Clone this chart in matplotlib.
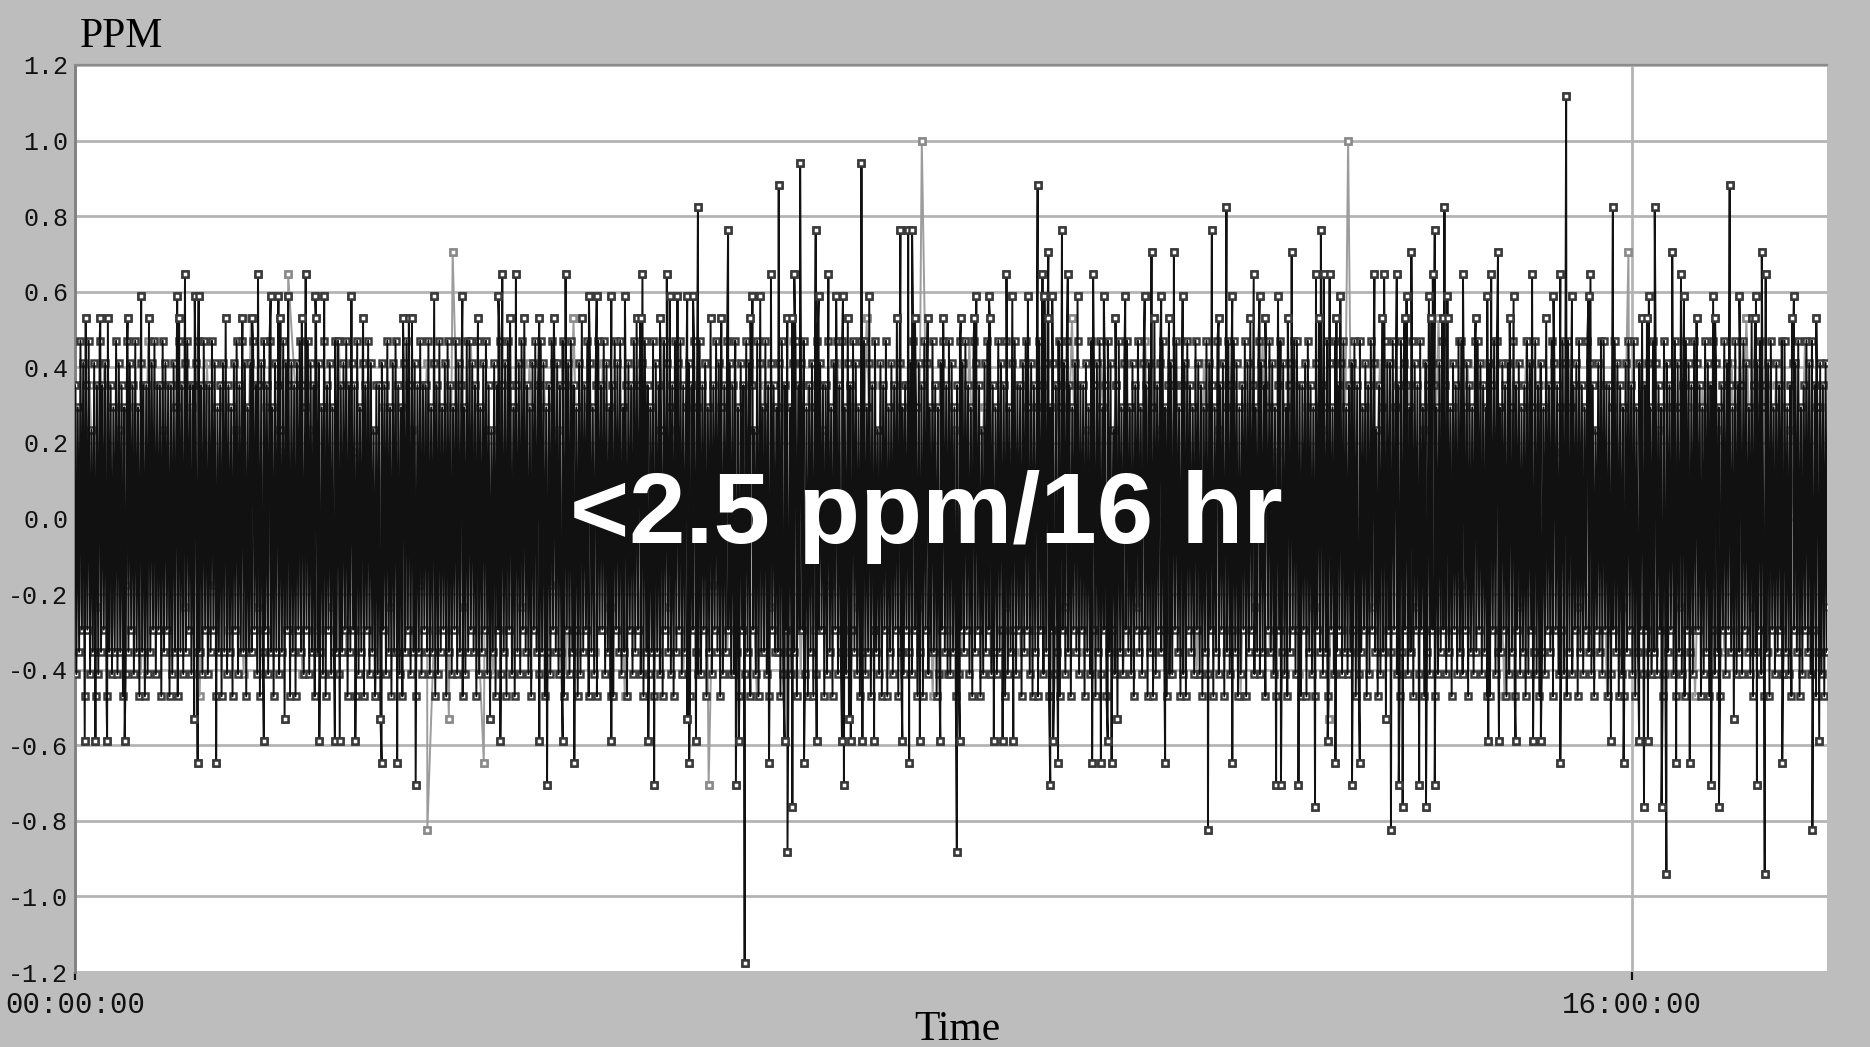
#! /usr/bin/env python3

"""Sixteen hour drift record of the PPM reading."""

import matplotlib
matplotlib.use('Agg')
import matplotlib.pyplot as plt
import numpy as np

STEP = 1 / 17  # ppm per count of the reading
SPAN_H = 18.0  # hours shown on the time axis

# Dark trace, counts at evenly spaced sample times across the span
black_counts = """
6 -7 5 -6 8 -5 7 -8 6 -5 8 -7 4 -6 7 -8 6 -7 8 -6 6 -5 7 -8 9 -6 6 -7 5 -6 8 -7
7 -6 6 -8 5 -7 8 -6 7 -5 6 -7 8 -6 5 -8 7 -6 6 -8 6 -7 9 -6 7 -5 8 -7 6 -5 6 -8
8 -6 7 -5 6 -8 6 -7 7 -6 5 -8 8 -6 6 -7 7 -6 8 -5 6 -7 6 -9 7 -6 8 -6 6 -7 8 -5
6 -7 6 -6 8 -5 7 -8 5 -6 6 -8 7 -6 9 -7 6 -6 5 -8 7 -5 8 -7 6 -6 8 -6 7 -8 5 -6
7 -6 8 -5 6 -7 6 -8 7 -6 8 -5 6 -7 8 -6 5 -8 7 -6 6 -7 4 -6 8 -9 7 -5 6 -8 7 -6
6 -8 7 -5 8 -6 6 -7 5 -5 8 -7 7 -6 6 -8 9 -6 7 -6 5 -7 8 -8 6 -5 7 -7 5 -6 8 -6
8 -7 6 -6 7 -5 8 -8 6 -6 7 -5 6 -8 8 -7 5 -6 7 -8 6 -5 8 -7 7 -6 4 -8 6 -7 6 -9
7 -5 6 -7 8 -6 5 -8 7 -6 8 -6 6 -7 5 -8 7 -6 8 -5 6 -7 9 -6 7 -8 6 -6 8 -7 6 -5
6 -6 8 -7 5 -6 7 -8 6 -7 8 -6 5 -5 7 -8 8 -6 6 -7 5 -5 8 -7 7 -6 6 -8 5 -7 8 -6
8 -5 7 -6 6 -8 8 -7 5 -6 7 -5 8 -7 6 -9 4 -6 7 -8 6 -5 8 -7 6 -6 7 -8 8 -5 6 -7
5 -8 6 -6 7 -7 8 -5 9 -6 6 -7 5 -8 7 -5 8 -6 6 -7 8 -6 7 -8 5 -6 6 -7 8 -5 7 -6
7 -7 6 -6 8 -8 6 -5 7 -7 8 -6 6 -5 5 -8 7 -7 9 -6 6 -5 8 -8 7 -6 5 -7 6 -8 8 -5
6 -5 8 -7 7 -6 5 -8 6 -8 8 -5 7 -6 8 -7 5 -6 6 -8 7 -5 6 -7 8 -6 9 -5 6 -7 7 -8
8 -6 6 -7 5 -6 8 -8 7 -6 6 -7 4 -8 8 -5 7 -6 5 -7 6 -8 8 -6 7 -5 8 -7 6 -6 5 -9
7 -8 6 -5 8 -6 5 -7 8 -7 6 -5 7 -8 5 -6 9 -7 6 -5 8 -6 7 -8 5 -7 6 -6 8 -5 7 -7
6 -7 8 -6 5 -8 7 -5 6 -7 8 -6 7 -8 6 -5 4 -7 8 -8 7 -6 5 -6 8 -7 6 -8 7 -5 6 -6
5 -6 7 -8 8 -7 6 -5 9 -6 5 -7 7 -6 8 -8 6 -5 7 -5 8 -7 5 -8 6 -6 7 -8 5 -7 8 -5
7 -5 6 -8 6 -7 8 -6 5 -8 7 -5 8 -7 6 -6 8 -5 5 -7 7 -9 6 -5 8 -6 7 -7 5 -8 8 -6
8 -7 5 -6 7 -8 6 -5 8 -6 4 -7 7 -8 6 -5 8 -8 5 -6 7 -7 6 -5 9 -8 7 -6 5 -7 6 -5
6 -6 7 -7 8 -5 5 -8 7 -6 6 -8 8 -5 7 -7 5 -6 8 -6 6 -8 5 -7 7 -5 8 -6 6 -7 8 -7
7 -6 5 -8 6 -7 8 -5 7 -6 8 -5 6 -7 5 -8 8 -6 7 -5 6 -8 4 -7 7 -6 8 -5 9 -7 6 -6
5 -7 8 -6 7 -5 6 -8 8 -7 5 -6 7 -5 8 -7 6 -5 6 -8 7 -6 8 -5 5 -7 7 -8 6 -6 5 -8
8 -5 6 -7 7 -6 9 -8 5 -5 7 -7 6 -6 8 -8 5 -5 7 -7 8 -6 6 -8 5 -5 7 -6 8 -7 6 -5
6 -8 7 -6 5 -7 8 -5 6 -8 7 -6 8 -7 5 -5 6 -8 8 -6 7 -5 4 -7 6 -9 8 -6 5 -7 7 -5
8 -6 5 -7 7 -8 6 -5 8 -6 5 -7 7 -5 6 -8 7 -6 5 -8 9 -7 6 -5 7 -6 8 -5 5 -8 6 -7
7 -7 6 -5 8 -6 5 -8 6 -7 7 -8 8 -5 6 -6 5 -7 8 -5 7 -7 6 -8 5 -6 8 -7 7 -5 6 -8
5 -6 8 -7 6 -5 7 -8 5 -6 8 -7 6 -5 8 -6 7 -8 5 -7 6 -5 8 -8 7 -6 9 -5 6 -7 5 -6
8 -7 7 -6 6 -8 5 -5 8 -6 7 -7 5 -8 6 -5 8 -6 7 -7 5 -8 6 -6 7 -5 8 -7 8 -5 6 -8
6 -5 7 -8 8 -6 6 -7 5 -8 7 -5 9 -6 6 -7 5 -6 8 -8 7 -5 5 -7 8 -6 6 -5 7 -7 8 -6
5 -7 6 -6 7 -5 8 -8 6 -7 8 -6 5 -5 7 -8 6 -7 8 -5 7 -6 4 -8 6 -7 5 -6 8 -9 7 -5
7 -6 8 -5 5 -7 6 -8 8 -6 7 -5 6 -7 5 -6 8 -8 7 -5 6 -7 8 -5 5 -8 7 -6 6 -7 9 -5
6 -8 5 -7 7 -6 8 -5 6 -7 9 -6 5 -8 7 -5 6 -7 8 -6 8 -7 5 -5 7 -8 6 -6 5 -7 8 -6
8 -5 7 -7 6 -6 5 -8 7 -8 6 -5 8 -7 8 -6 5 -6 7 -5 6 -8 7 -7 5 -6 8 -8 6 -5 7 -7
5 -6 6 -8 8 -7 7 -5 5 -6 8 -7 6 -8 7 -6 5 -7 9 -5 6 -6 8 -8 7 -5 6 -7 5 -5 8 -7
7 -8 8 -6 5 -7 6 -5 7 -8 8 -6 6 -7 5 -5 8 -6 7 -7 6 -8 4 -5 7 -6 8 -7 8 -5 6 -8
6 -7 5 -5 8 -6 7 -8 6 -7 5 -8 7 -6 8 -5 6 -7 8 -8 5 -6 7 -5 9 -7 6 -5 7 -6 5 -7
8 -6 7 -7 6 -5 5 -8 8 -7 7 -6 6 -5 5 -7 8 -8 7 -6 5 -7 6 -8 8 -5 7 -6 6 -7 8 -5
7 -5 6 -8 5 -7 8 -6 7 -8 6 -5 8 -7 7 -6 5 -8 6 -5 8 -7 7 -5 6 -6 5 -9 8 -7 6 -6
6 -7 8 -5 7 -6 5 -7 9 -8 6 -6 7 -5 8 -7 5 -8 6 -6 7 -8 8 -5 5 -7 7 -6 6 -5 8 -7
8 -6 5 -7 6 -8 7 -5 7 -6 8 -8 5 -7 6 -5 8 -6 7 -7 8 -5 6 -8 5 -6 7 -7 6 -8 7 -6
"""

# Light trace, counts at evenly spaced sample times across the span
gray_counts = """
3 -5 6 -4 7 -6 4 -3 5 -7 8 -5 4 -6 6 -4 5 -8 7 -3 6 -5 4 -7 9 -4 5 -6 3 -5
6 -7 4 -5 5 -4 8 -6 3 -5 7 -8 5 -4 6 -6 4 -3 7 -5 5 -9 6 -4 8 -5 4 -7 6 -5
5 -4 7 -6 6 -3 4 -7 9 -5 5 -6 7 -4 3 -8 6 -5 5 -6 8 -4 4 -7 6 -5 7 -3 5 -6
7 -5 4 -8 6 -4 5 -6 8 -7 6 -5 4 -3 7 -6 5 -4 9 -5 6 -7 3 -6 5 -4 7 -8 6 -5
4 -6 8 -5 5 -7 6 -4 3 -6 7 -5 5 -8 6 -4 9 -6 4 -5 7 -3 6 -7 5 -4 8 -6 4 -5
6 -3 5 -7 7 -5 4 -6 6 -8 5 -4 8 -6 3 -5 6 -7 5 -4 4 -9 7 -5 6 -6 5 -4 7 -5
5 -7 6 -4 4 -5 9 -6 5 -3 7 -6 6 -5 4 -8 5 -4 8 -6 6 -5 3 -7 7 -4 5 -6 6 -8
8 -4 5 -6 6 -7 4 -5 7 -4 5 -8 6 -3 4 -6 7 -5 9 -4 5 -6 6 -7 4 -5 8 -6 5 -4
"""

# Excursions of the dark trace above the band: (hour, counts)
black_up = [
    (15.32, 19),
    (7.45, 16), (8.08, 16),
    (7.23, 15), (9.89, 15), (17.00, 15),
    (6.40, 14), (11.83, 14), (14.07, 14), (15.80, 14), (16.23, 14),
    (6.71, 13), (7.61, 13), (8.48, 13), (8.56, 13), (8.60, 13),
    (10.14, 13), (11.68, 13), (12.80, 13), (13.97, 13),
    (10.00, 12), (11.06, 12), (11.29, 12), (12.50, 12), (13.73, 12),
    (14.62, 12), (16.41, 12), (17.33, 12),
    (1.13, 11), (1.88, 11), (2.37, 11), (4.39, 11), (4.53, 11), (5.04, 11),
    (5.83, 11), (6.08, 11), (7.15, 11), (7.39, 11), (7.74, 11), (9.57, 11),
    (9.94, 11), (10.20, 11), (10.46, 11), (12.11, 11), (12.75, 11),
    (12.83, 11), (12.89, 11), (13.35, 11), (13.45, 11), (13.58, 11),
    (13.95, 11), (14.26, 11), (14.55, 11), (14.97, 11), (15.26, 11),
    (15.57, 11), (16.50, 11), (17.37, 11),
    (0.68, 10), (1.05, 10), (1.23, 10), (1.27, 10), (2.01, 10), (2.09, 10),
    (2.19, 10), (2.47, 10), (2.56, 10), (2.84, 10), (3.69, 10), (3.98, 10),
    (4.35, 10), (5.28, 10), (5.36, 10), (5.51, 10), (5.65, 10), (6.11, 10),
    (6.19, 10), (6.29, 10), (6.35, 10), (6.96, 10), (7.04, 10), (7.64, 10),
    (7.82, 10), (7.89, 10), (8.16, 10), (9.26, 10), (9.39, 10), (9.63, 10),
    (9.79, 10), (9.96, 10), (10.04, 10), (10.30, 10), (10.57, 10),
    (10.79, 10), (10.99, 10), (11.16, 10), (11.38, 10), (11.89, 10),
    (12.17, 10), (12.36, 10), (13.00, 10), (13.68, 10), (13.91, 10),
    (14.10, 10), (14.51, 10), (14.78, 10), (15.19, 10), (15.38, 10),
    (15.55, 10), (16.17, 10), (16.53, 10), (16.83, 10), (17.10, 10),
    (17.27, 10), (17.66, 10),
    (0.11, 9), (0.26, 9), (0.54, 9), (1.07, 9), (1.72, 9), (1.82, 9),
    (2.11, 9), (2.33, 9), (2.96, 9), (3.37, 9), (3.43, 9), (4.14, 9),
    (4.47, 9), (4.77, 9), (4.92, 9), (5.81, 9), (6.01, 9), (6.64, 9),
    (6.94, 9), (7.37, 9), (7.94, 9), (8.63, 9), (8.76, 9), (8.92, 9),
    (9.10, 9), (9.24, 9), (10.69, 9), (11.24, 9), (11.75, 9), (12.23, 9),
    (12.46, 9), (12.96, 9), (13.43, 9), (13.66, 9), (14.05, 9), (14.39, 9),
    (14.74, 9), (16.15, 9), (16.66, 9), (16.85, 9), (17.26, 9), (17.64, 9),
    (17.89, 9),
]

# Excursions of the dark trace below the band: (hour, counts)
black_down = [
    (0.10, -10), (0.21, -10), (0.33, -10), (0.51, -10), (1.94, -10),
    (2.51, -10), (2.67, -10), (2.72, -10), (2.88, -10), (4.37, -10),
    (4.77, -10), (5.01, -10), (5.51, -10), (5.89, -10), (6.38, -10),
    (6.82, -10), (7.29, -10), (7.62, -10), (7.88, -10), (7.97, -10),
    (8.09, -10), (8.21, -10), (8.50, -10), (8.68, -10), (8.89, -10),
    (9.09, -10), (9.44, -10), (9.53, -10), (9.64, -10), (10.05, -10),
    (10.61, -10), (12.87, -10), (14.52, -10), (14.63, -10), (14.80, -10),
    (14.98, -10), (15.06, -10), (15.78, -10), (16.07, -10), (16.16, -10),
    (17.92, -10),
    (1.26, -11), (1.45, -11), (3.15, -11), (3.31, -11), (5.13, -11),
    (6.31, -11), (7.13, -11), (7.49, -11), (8.57, -11), (10.10, -11),
    (10.45, -11), (10.54, -11), (10.65, -11), (11.20, -11), (11.89, -11),
    (12.95, -11), (13.20, -11), (15.26, -11), (15.91, -11), (16.45, -11),
    (16.59, -11), (17.54, -11),
    (3.50, -12), (4.85, -12), (5.95, -12), (6.79, -12), (7.90, -12),
    (10.02, -12), (12.34, -12), (12.39, -12), (12.57, -12), (13.12, -12),
    (13.60, -12), (13.81, -12), (13.97, -12), (16.81, -12), (17.28, -12),
    (7.37, -13), (12.74, -13), (13.64, -13), (13.88, -13), (16.12, -13),
    (16.30, -13), (16.89, -13),
    (11.64, -14), (13.52, -14), (17.85, -14),
    (7.32, -15), (9.06, -15),
    (16.35, -16), (17.36, -16),
    (6.88, -20),
]

# Excursions of the light trace: (hour, counts)
gray_spikes = [
    (8.70, 17), (13.08, 17), (3.88, 12), (15.96, 12), (2.19, 11),
    (3.62, -14), (6.51, -12), (4.20, -11),
]

y_ticks = [1.2, 1.0, 0.8, 0.6, 0.4, 0.2, 0.0,
           -0.2, -0.4, -0.6, -0.8, -1.0, -1.2]
x_ticks = [0, 16]
x_tick_labels = ['00:00:00', '16:00:00']
note = '<2.5 ppm/16 hr'


def build_trace(counts_text, spikes):
    """Merge the regular samples with the excursions, in time order."""
    counts = np.array(counts_text.split(), dtype=float)
    t = np.linspace(0, SPAN_H, len(counts))
    sp_t = np.array([s[0] for s in spikes])
    sp_c = np.array([s[1] for s in spikes], dtype=float)
    t_all = np.concatenate([t, sp_t])
    c_all = np.concatenate([counts, sp_c])
    order = np.argsort(t_all, kind='stable')
    return t_all[order], c_all[order] * STEP


def draw_trace(ax, t, v, line_color, edge_color, z):
    """Line over its sample squares; squares past the band on top."""
    marker = dict(marker='s', ms=4, mfc='white', mew=1.8, mec=edge_color,
                  ls='none')
    ax.plot(t, v, zorder=z - 0.2, **marker)
    ax.plot(t, v, color=line_color, lw=1.4, zorder=z)
    far = np.abs(v) > 8.5 * STEP
    ax.plot(t[far], v[far], zorder=z + 0.2, **marker)


def make_plot():
    fig = plt.figure(figsize=(18.7, 10.47), dpi=100, facecolor='#bdbdbd')
    ax = fig.add_axes([75 / 1870, 75 / 1047, 1752 / 1870, 907 / 1047])
    ax.set_facecolor('white')

    gt, gv = build_trace(gray_counts, gray_spikes)
    bt, bv = build_trace(black_counts, black_up + black_down)

    # Light trace sits behind the dark one
    draw_trace(ax, gt, gv, '#9c9c9c', '#8a8a8a', 2.5)
    draw_trace(ax, bt, bv, '#111111', '#3a3a3a', 3.5)

    ax.set_xlim(0, SPAN_H)
    ax.set_ylim(-1.2, 1.2)

    ax.set_yticks(y_ticks)
    ax.set_yticklabels([f'{v:.1f}' for v in y_ticks],
                       family='Liberation Mono', fontsize=18)
    ax.set_xticks(x_ticks)
    ax.set_xticklabels(x_tick_labels, family='Liberation Mono', fontsize=21)
    ax.tick_params(axis='y', length=0, pad=5, colors='#111111')
    ax.tick_params(axis='x', direction='out', length=6, width=1.6,
                   pad=8, colors='#111111')

    ax.grid(True, color='#b4b4b4', lw=2)
    ax.set_axisbelow(True)

    for side in ['right', 'bottom']:
        ax.spines[side].set_visible(False)
    ax.spines['left'].set_color('#808080')
    ax.spines['left'].set_linewidth(2)
    ax.spines['top'].set_color('#8c8c8c')
    ax.spines['top'].set_linewidth(1.6)

    ax.text(8.75, -0.065, note, color='white', fontsize=73,
            fontweight='bold', family='Liberation Sans',
            ha='center', va='baseline', zorder=10)

    fig.text(80 / 1870, 1 - 47 / 1047, 'PPM', family='Liberation Serif',
             fontsize=30, va='baseline', ha='left')
    fig.text(957 / 1870, 7 / 1047, 'Time', family='Liberation Serif',
             fontsize=30, va='baseline', ha='center')

    fig.savefig('out.png', dpi=100, facecolor=fig.get_facecolor())


if __name__ == "__main__":
    make_plot()
